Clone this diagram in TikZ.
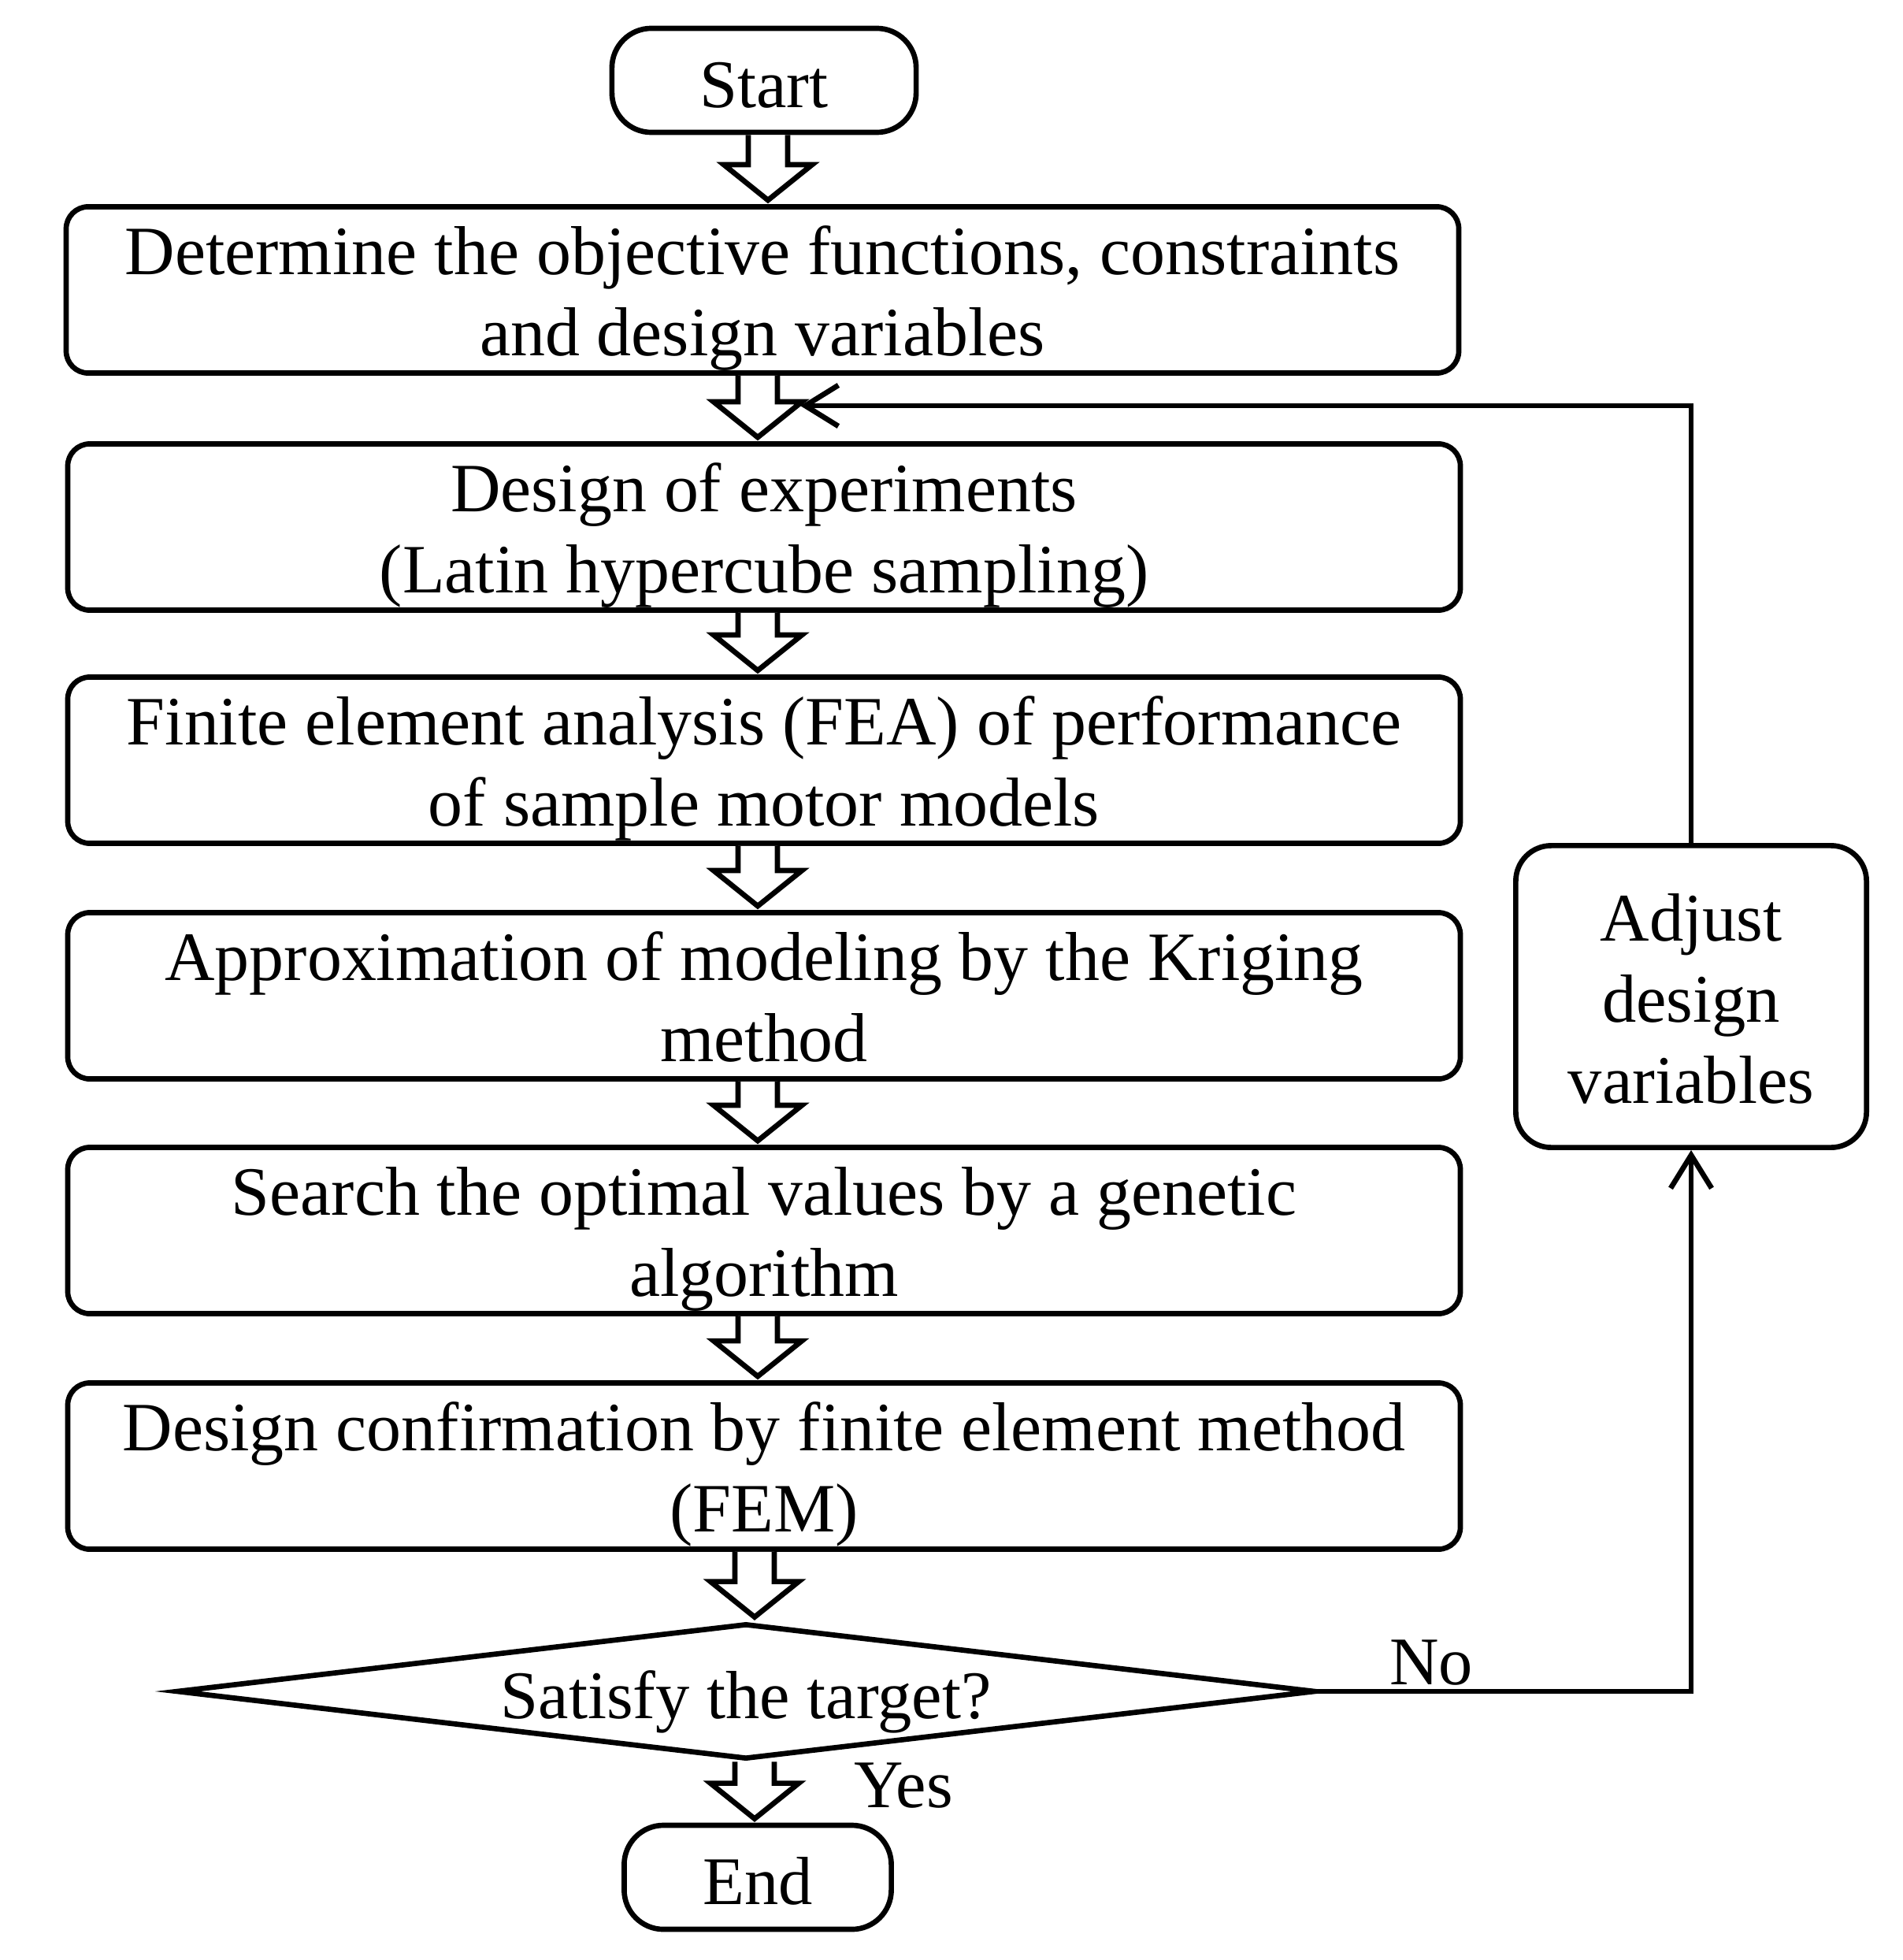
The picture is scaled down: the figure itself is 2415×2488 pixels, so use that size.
\documentclass[tikz,border=0pt]{standalone}
\usepackage{fontspec}
\setmainfont{Liberation Serif}
\usetikzlibrary{shapes.geometric,arrows.meta,calc}
\newcommand{\ms}{\rule[-5.5pt]{0pt}{29.3pt}}
\newcommand{\blockarrow}[3]{%
  \draw[blk] let \p1=(#1.south), \p2=(#2.north), \p3=(#3,0) in
   (\x3-0.25cm,\y1) -- (\x3-0.25cm,\y2+0.5cm) -- (\x3-0.56cm,\y2+0.5cm)
   -- (\x3,\y2+0.05cm) -- (\x3+0.56cm,\y2+0.5cm) -- (\x3+0.25cm,\y2+0.5cm)
   -- (\x3+0.25cm,\y1);}
\begin{document}
\begin{tikzpicture}[x=0.01cm,y=-0.01cm,
  every node/.style={font=\fontsize{24.6}{29.3}\selectfont, inner sep=0pt},
  proc/.style={draw, line width=1.9pt, rounded corners=0.28cm, align=center,
    font=\fontsize{25}{29.3}\selectfont,
    minimum width=17.67cm, minimum height=2.11cm},
  term/.style={draw, line width=1.9pt, rounded corners=0.5cm,
    minimum height=1.32cm, text height=19.4pt, text depth=0pt},
  adjbox/.style={draw, line width=1.9pt, rounded corners=0.45cm, align=center,
    minimum width=4.45cm, minimum height=3.83cm},
  blk/.style={line width=1.9pt, line join=miter, fill=white},
  conn/.style={line width=1.9pt, -{Straight Barb[length=0.42cm,width=0.52cm]}}]
\useasboundingbox (0,0) rectangle (2415,2488);
\node[term, minimum width=3.86cm] (start) at (970,102) {Start};
\node[proc] (b1) at (968,368) {\ms Determine the objective functions, constraints\\and design variables\ms};
\node[proc] (b2) at (970,669) {\ms Design of experiments\\(Latin hypercube sampling)\ms};
\node[proc] (b3) at (970,965) {\ms Finite element analysis (FEA) of performance\\of sample motor models\ms};
\node[proc] (b4) at (970,1264) {\ms Approximation of modeling by the Kriging\\method\ms};
\node[proc] (b5) at (970,1562) {\ms Search the optimal values by a genetic\\algorithm\ms};
\node[proc] (b6) at (970,1861) {\ms Design confirmation by finite element method\\(FEM)\ms};
\node[draw, diamond, line width=1.9pt, aspect=8.4, minimum width=14.45cm,
  minimum height=1.72cm, text height=19.4pt, text depth=0pt] (dia) at (947,2147) {Satisfy the target?};
\node[term, minimum width=3.39cm] (end) at (962,2383) {End};
\node[adjbox] (adj) at (2147,1265) {\ms Adjust\\design\\variables\ms};
\node[anchor=base] (no) at (1817,2138) {No};
\node[anchor=base] (yes) at (1147,2294) {Yes};
\coordinate (loopend) at (1016,515);
\blockarrow{start}{b1}{975}
\blockarrow{b1}{b2}{962}
\blockarrow{b2}{b3}{962}
\blockarrow{b3}{b4}{962}
\blockarrow{b4}{b5}{962}
\blockarrow{b5}{b6}{962}
\blockarrow{b6}{dia}{958}
\blockarrow{dia}{end}{958}
\draw[conn] (adj.north) |- (loopend);
\draw[conn] (dia.east) -| (adj.south);
\end{tikzpicture}
\end{document}
